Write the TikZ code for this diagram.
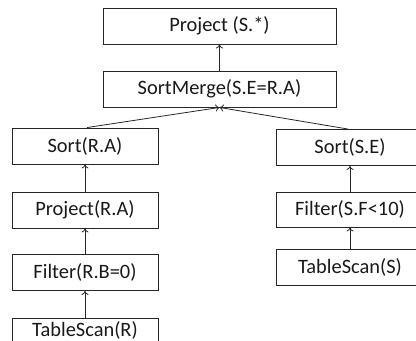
\documentclass[tikz,border=0pt]{standalone}
\usepackage{fontspec}
\setmainfont{Carlito}
\usetikzlibrary{arrows.meta}
\begin{document}
\begin{tikzpicture}[x=1bp,y=-1bp,
  opbox/.style={draw=black!85,line width=0.9bp,minimum width=#1,minimum height=36bp,inner sep=0pt,font=\fontsize{20.5}{22}\selectfont,text=black!90},
  opbox/.default=233bp,
  flow/.style={-{To[length=4bp,width=7bp]},line width=0.8bp,draw=black!85}]
\useasboundingbox (0,0) rectangle (416,341);
\clip (0,0) rectangle (416,341);
\node[opbox] (proj) at (219.5,26) {Project (S.*)};
\node[opbox] (sm) at (219.5,89) {SortMerge(S.E=R.A)};
\node[opbox=146bp] (sra) at (85,146) {Sort(R.A)};
\node[opbox=146bp] (pra) at (85,210) {Project(R.A)};
\node[opbox=146bp] (fr) at (85,272.5) {Filter(R.B=0)};
\node[opbox=146bp,minimum height=24bp] (tr) at (85,330) {TableScan(R)};
\node[opbox=148bp] (sse) at (350,147.5) {Sort(S.E)};
\node[opbox=148bp,minimum height=35bp] (fs) at (350,209.5) {Filter(S.F<10)};
\node[opbox=148bp] (ts) at (350,267) {TableScan(S)};
\draw[flow] (sm) -- (proj);
\draw[flow] (sra.north) ++(2,0) coordinate (a1) (a1) -- (sm.south);
\draw[flow] (sse.north) ++(-2,0) coordinate (a2) (a2) -- (sm.south);
\draw[flow] (pra) -- (sra);
\draw[flow] (fr) -- (pra);
\draw[flow] (tr) -- (fr);
\draw[flow] (fs) -- (sse);
\draw[flow] (ts) -- (fs);
\end{tikzpicture}
\end{document}
